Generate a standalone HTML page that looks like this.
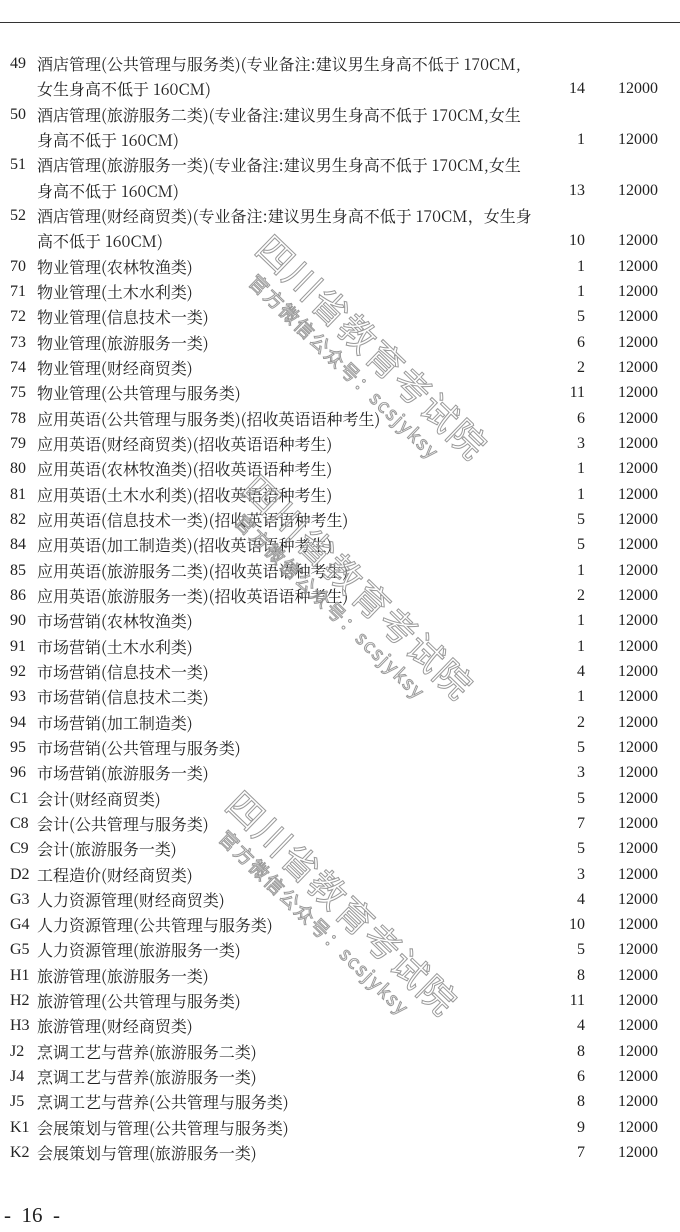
<!DOCTYPE html>
<html><head><meta charset="utf-8"><style>
body{margin:0;width:680px;height:1232px;background:#fff;position:relative;overflow:hidden;font-family:"Liberation Serif","Noto Serif CJK SC",serif;color:#222;font-size:16px}
.top{position:absolute;left:0;right:0;top:22px;height:1px;background:#333}
#rows{position:absolute;top:51px;left:0;width:680px}
.r{position:relative;height:25.33px;line-height:25.33px;white-space:nowrap}
.c{position:absolute;left:10px}
.t{position:absolute;left:37px;font-family:"Noto Serif CJK SC",serif;font-size:16px}
.t i{font-style:normal;padding:0 1.5px}
.n{position:absolute;right:95px}
.m{position:absolute;right:22px}
.wm{position:absolute;transform-origin:0 0;transform:rotate(44deg);white-space:nowrap;font-family:"Noto Sans CJK SC",sans-serif;color:rgba(255,255,255,0.3);-webkit-text-stroke:1px #999}
.big{font-size:36px;letter-spacing:2px}
.sm{font-size:19px;letter-spacing:2px}
.pg{position:absolute;left:4px;top:1203px;font-size:21px;white-space:pre}
</style></head><body>
<div class="top"></div>
<div id="rows">
<div class="r"><span class="c">49</span><span class="t">酒店管理(公共管理与服务类)(专业备注:建议男生身高不低于 170CM,</span></div>
<div class="r"><span class="t">女生身高不低于 160CM)</span><span class="n">14</span><span class="m">12000</span></div>
<div class="r"><span class="c">50</span><span class="t">酒店管理(旅游服务二类)(专业备注:建议男生身高不低于 170CM,女生</span></div>
<div class="r"><span class="t">身高不低于 160CM)</span><span class="n">1</span><span class="m">12000</span></div>
<div class="r"><span class="c">51</span><span class="t">酒店管理(旅游服务一类)(专业备注:建议男生身高不低于 170CM,女生</span></div>
<div class="r"><span class="t">身高不低于 160CM)</span><span class="n">13</span><span class="m">12000</span></div>
<div class="r"><span class="c">52</span><span class="t">酒店管理(财经商贸类)(专业备注:建议男生身高不低于 170CM，女生身</span></div>
<div class="r"><span class="t">高不低于 160CM)</span><span class="n">10</span><span class="m">12000</span></div>
<div class="r"><span class="c">70</span><span class="t">物业管理(农林牧渔类)</span><span class="n">1</span><span class="m">12000</span></div>
<div class="r"><span class="c">71</span><span class="t">物业管理(土木水利类)</span><span class="n">1</span><span class="m">12000</span></div>
<div class="r"><span class="c">72</span><span class="t">物业管理(信息技术一类)</span><span class="n">5</span><span class="m">12000</span></div>
<div class="r"><span class="c">73</span><span class="t">物业管理(旅游服务一类)</span><span class="n">6</span><span class="m">12000</span></div>
<div class="r"><span class="c">74</span><span class="t">物业管理(财经商贸类)</span><span class="n">2</span><span class="m">12000</span></div>
<div class="r"><span class="c">75</span><span class="t">物业管理(公共管理与服务类)</span><span class="n">11</span><span class="m">12000</span></div>
<div class="r"><span class="c">78</span><span class="t">应用英语(公共管理与服务类)(招收英语语种考生)</span><span class="n">6</span><span class="m">12000</span></div>
<div class="r"><span class="c">79</span><span class="t">应用英语(财经商贸类)(招收英语语种考生)</span><span class="n">3</span><span class="m">12000</span></div>
<div class="r"><span class="c">80</span><span class="t">应用英语(农林牧渔类)(招收英语语种考生)</span><span class="n">1</span><span class="m">12000</span></div>
<div class="r"><span class="c">81</span><span class="t">应用英语(土木水利类)(招收英语语种考生)</span><span class="n">1</span><span class="m">12000</span></div>
<div class="r"><span class="c">82</span><span class="t">应用英语(信息技术一类)(招收英语语种考生)</span><span class="n">5</span><span class="m">12000</span></div>
<div class="r"><span class="c">84</span><span class="t">应用英语(加工制造类)(招收英语语种考生)</span><span class="n">5</span><span class="m">12000</span></div>
<div class="r"><span class="c">85</span><span class="t">应用英语(旅游服务二类)(招收英语语种考生)</span><span class="n">1</span><span class="m">12000</span></div>
<div class="r"><span class="c">86</span><span class="t">应用英语(旅游服务一类)(招收英语语种考生)</span><span class="n">2</span><span class="m">12000</span></div>
<div class="r"><span class="c">90</span><span class="t">市场营销(农林牧渔类)</span><span class="n">1</span><span class="m">12000</span></div>
<div class="r"><span class="c">91</span><span class="t">市场营销(土木水利类)</span><span class="n">1</span><span class="m">12000</span></div>
<div class="r"><span class="c">92</span><span class="t">市场营销(信息技术一类)</span><span class="n">4</span><span class="m">12000</span></div>
<div class="r"><span class="c">93</span><span class="t">市场营销(信息技术二类)</span><span class="n">1</span><span class="m">12000</span></div>
<div class="r"><span class="c">94</span><span class="t">市场营销(加工制造类)</span><span class="n">2</span><span class="m">12000</span></div>
<div class="r"><span class="c">95</span><span class="t">市场营销(公共管理与服务类)</span><span class="n">5</span><span class="m">12000</span></div>
<div class="r"><span class="c">96</span><span class="t">市场营销(旅游服务一类)</span><span class="n">3</span><span class="m">12000</span></div>
<div class="r"><span class="c">C1</span><span class="t">会计(财经商贸类)</span><span class="n">5</span><span class="m">12000</span></div>
<div class="r"><span class="c">C8</span><span class="t">会计(公共管理与服务类)</span><span class="n">7</span><span class="m">12000</span></div>
<div class="r"><span class="c">C9</span><span class="t">会计(旅游服务一类)</span><span class="n">5</span><span class="m">12000</span></div>
<div class="r"><span class="c">D2</span><span class="t">工程造价(财经商贸类)</span><span class="n">3</span><span class="m">12000</span></div>
<div class="r"><span class="c">G3</span><span class="t">人力资源管理(财经商贸类)</span><span class="n">4</span><span class="m">12000</span></div>
<div class="r"><span class="c">G4</span><span class="t">人力资源管理(公共管理与服务类)</span><span class="n">10</span><span class="m">12000</span></div>
<div class="r"><span class="c">G5</span><span class="t">人力资源管理(旅游服务一类)</span><span class="n">5</span><span class="m">12000</span></div>
<div class="r"><span class="c">H1</span><span class="t">旅游管理(旅游服务一类)</span><span class="n">8</span><span class="m">12000</span></div>
<div class="r"><span class="c">H2</span><span class="t">旅游管理(公共管理与服务类)</span><span class="n">11</span><span class="m">12000</span></div>
<div class="r"><span class="c">H3</span><span class="t">旅游管理(财经商贸类)</span><span class="n">4</span><span class="m">12000</span></div>
<div class="r"><span class="c">J2</span><span class="t">烹调工艺与营养(旅游服务二类)</span><span class="n">8</span><span class="m">12000</span></div>
<div class="r"><span class="c">J4</span><span class="t">烹调工艺与营养(旅游服务一类)</span><span class="n">6</span><span class="m">12000</span></div>
<div class="r"><span class="c">J5</span><span class="t">烹调工艺与营养(公共管理与服务类)</span><span class="n">8</span><span class="m">12000</span></div>
<div class="r"><span class="c">K1</span><span class="t">会展策划与管理(公共管理与服务类)</span><span class="n">9</span><span class="m">12000</span></div>
<div class="r"><span class="c">K2</span><span class="t">会展策划与管理(旅游服务一类)</span><span class="n">7</span><span class="m">12000</span></div>
</div>
<div class="wm big" style="left:282px;top:222px">四川省教育考试院</div>
<div class="wm sm" style="left:262px;top:268px">官方微信公众号：scsjyksy</div>
<div class="wm big" style="left:268px;top:462px">四川省教育考试院</div>
<div class="wm sm" style="left:248px;top:508px">官方微信公众号：scsjyksy</div>
<div class="wm big" style="left:252px;top:778px">四川省教育考试院</div>
<div class="wm sm" style="left:232px;top:824px">官方微信公众号：scsjyksy</div>
<div class="pg">-  16  -</div>
</body></html>
